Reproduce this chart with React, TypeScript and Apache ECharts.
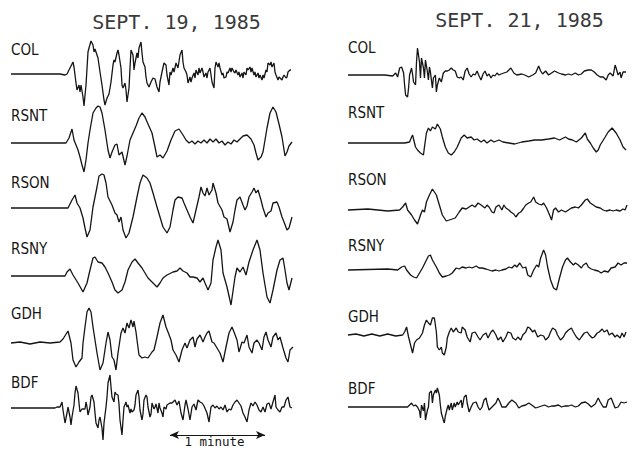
import React, { useEffect, useRef } from "react";
import * as echarts from "echarts";

// ---------- DATA (time in samples, amplitude in counts; up = positive) ----------
const STATIONS = ["COL", "RSNT", "RSON", "RSNY", "GDH", "BDF"];
const DATES = ["SEPT. 19, 1985", "SEPT. 21, 1985"];
const SCALE_BAR = [160, 255]; // 1 minute, in samples
const SCALE_LABEL = "1 minute";

const COL_19 = [[1,0],[30,0],[50,0],[55,-1],[57,0],[63,12],[64,7],[66,-9],[67,-16],[69,-11],[70,-18],[71,-11],[73,-23],[74,-32],[76,-11],[78,22],[79,26],[81,33],[83,29],[84,22],[85,25],[87,19],[88,16],[90,2],[92,-11],[94,-26],[95,-31],[97,-24],[99,-20],[101,-8],[103,9],[104,14],[105,12],[107,21],[108,24],[109,19],[111,6],[112,-11],[113,-14],[115,-9],[116,-16],[117,-28],[119,-14],[120,6],[121,24],[123,19],[124,4],[125,11],[127,21],[128,16],[129,26],[131,32],[132,21],[133,12],[135,7],[136,-3],[137,-9],[139,-13],[141,-8],[143,-4],[145,-5],[147,-13],[149,-18],[150,-8],[152,2],[154,11],[156,9],[157,-1],[159,-11],[160,2],[161,-1],[163,6],[164,2],[166,11],[168,6],[170,19],[172,24],[173,12],[174,6],[176,2],[177,-1],[178,-9],[180,-3],[181,-8],[182,-4],[184,1],[185,-4],[186,4],[188,-1],[189,6],[190,1],[192,6],[193,2],[194,-3],[196,1],[197,-4],[198,2],[200,6],[201,-1],[202,-8],[204,-14],[205,6],[206,12],[208,7],[209,11],[210,6],[212,-1],[213,1],[214,-4],[216,-3],[217,2],[218,1],[220,6],[221,2],[222,6],[224,2],[225,1],[226,4],[228,-1],[229,2],[230,-3],[232,1],[233,-4],[234,2],[236,-1],[237,6],[238,4],[240,7],[241,2],[242,6],[244,-1],[245,2],[246,-3],[248,1],[249,-4],[250,-1],[252,-6],[253,-1],[254,-4],[256,4],[257,2],[258,11],[260,9],[261,12],[262,7],[264,11],[265,2],[266,-1],[268,-6],[269,-3],[270,-4],[272,-6],[273,-3],[274,-1],[276,-4],[277,-3],[278,2],[280,4],[281,4]];
const RSNT_19 = [[1,0],[50,0],[56,0],[59,5],[62,14],[64,3],[68,-7],[70,-14],[72,-22],[74,-29],[76,-17],[78,0],[80,13],[83,30],[86,35],[88,37],[90,36],[92,30],[95,13],[98,-7],[100,-15],[102,-9],[105,-2],[107,-1],[109,-12],[112,-9],[115,-22],[117,-13],[120,3],[123,10],[126,17],[129,25],[132,30],[135,26],[138,19],[142,10],[145,-4],[147,-14],[150,-12],[153,-15],[157,-8],[161,3],[165,12],[169,14],[173,8],[176,3],[179,0],[182,2],[185,-1],[188,2],[191,0],[194,3],[197,0],[200,4],[203,1],[206,4],[209,0],[212,2],[215,-2],[218,1],[221,-1],[224,3],[227,1],[230,4],[233,7],[237,8],[241,4],[244,-2],[246,-10],[248,-17],[251,-14],[253,-9],[255,3],[257,15],[260,30],[263,36],[266,31],[269,19],[272,6],[275,-13],[277,-9],[279,-3],[282,1]];
const RSON_19 = [[1,0],[58,0],[62,8],[65,13],[67,5],[70,0],[73,-10],[75,-20],[77,-29],[80,-22],[83,1],[87,21],[89,32],[92,34],[94,33],[96,25],[98,11],[102,3],[105,-5],[107,-7],[109,-14],[111,-9],[113,-22],[116,-30],[119,-25],[123,-9],[127,11],[130,25],[133,33],[137,30],[140,25],[143,15],[147,1],[150,-9],[153,-19],[157,-25],[160,-19],[163,-2],[165,8],[168,11],[172,10],[174,5],[177,-2],[180,-9],[183,-15],[186,-2],[189,11],[191,21],[193,15],[195,12],[197,20],[199,13],[202,18],[203,25],[206,15],[208,5],[212,-2],[214,-9],[217,-11],[220,-24],[223,-14],[225,-2],[227,8],[230,11],[233,3],[235,-2],[237,2],[239,11],[242,16],[244,20],[246,15],[248,18],[251,8],[253,0],[256,-9],[258,-5],[261,-3],[263,5],[267,6],[269,1],[272,-9],[274,-14],[277,-22],[279,-20],[282,-9]];
const RSNY_19 = [[1,0],[55,0],[57,4],[60,7],[63,1],[68,-7],[73,-16],[77,-7],[80,6],[83,18],[85,19],[88,14],[92,13],[95,9],[98,3],[102,-6],[105,-14],[108,-17],[112,-14],[115,-6],[118,6],[122,14],[125,17],[128,13],[132,8],[135,3],[138,-2],[143,-7],[147,-11],[150,-7],[153,-2],[157,1],[163,4],[167,5],[170,8],[173,5],[177,3],[180,-1],[183,-1],[187,-2],[190,-6],[193,-2],[195,-7],[198,-14],[201,-7],[203,16],[206,29],[208,36],[211,26],[213,3],[217,-11],[221,-29],[225,-1],[227,8],[230,4],[233,9],[236,1],[239,14],[243,26],[247,36],[250,26],[253,3],[257,-21],[260,-27],[263,-14],[267,6],[270,16],[273,18],[275,6],[277,-7],[279,-14],[282,-2]];
const GDH_19 = [[1,0],[10,1],[20,-1],[30,1],[40,0],[50,1],[53,4],[58,12],[61,0],[63,-17],[66,-24],[69,-19],[72,-15],[73,0],[75,16],[77,31],[79,35],[81,31],[83,16],[87,-10],[90,-27],[93,-20],[96,0],[98,11],[100,3],[102,-14],[104,-17],[106,-27],[108,-10],[111,10],[113,15],[115,10],[117,20],[119,15],[121,23],[123,16],[124,22],[126,11],[127,3],[129,-12],[132,-15],[135,-14],[138,-15],[142,-9],[144,-7],[147,6],[150,20],[153,28],[156,16],[158,11],[161,3],[163,-7],[166,-12],[169,-19],[172,-7],[175,0],[177,-5],[180,3],[183,6],[185,-4],[187,4],[190,8],[193,1],[195,6],[197,10],[199,12],[202,1],[204,0],[207,-5],[210,-10],[213,-19],[216,-4],[219,10],[222,16],[224,11],[227,3],[229,-9],[232,1],[234,0],[237,8],[239,-4],[242,-10],[244,0],[247,3],[249,0],[252,-7],[254,6],[256,11],[258,3],[261,-4],[263,6],[266,10],[268,3],[270,6],[273,-5],[276,-15],[278,-19],[280,-7],[283,-4]];
const BDF_19 = [[1,0],[45,0],[47,1],[50,1],[52,6],[53,-2],[55,-15],[57,-5],[58,1],[60,-9],[61,-17],[62,-9],[64,3],[65,15],[66,22],[68,15],[69,5],[70,-4],[72,-1],[73,-1],[75,-1],[76,6],[77,1],[78,-7],[80,1],[81,11],[82,13],[84,6],[85,-5],[86,-15],[88,-20],[89,-12],[90,-9],[92,-20],[93,-32],[94,-15],[96,1],[97,11],[98,25],[100,33],[101,21],[102,11],[104,6],[105,16],[106,14],[108,13],[109,4],[110,-12],[112,-27],[113,-12],[114,1],[116,6],[117,1],[118,3],[120,-5],[121,-1],[122,-4],[124,-2],[125,3],[126,13],[128,18],[129,11],[130,-2],[132,-12],[133,-6],[134,8],[136,13],[137,11],[138,1],[140,-9],[141,-6],[142,5],[144,-1],[145,1],[146,4],[148,-5],[149,5],[150,0],[152,-5],[153,-9],[154,1],[156,-1],[157,3],[160,5],[162,5],[165,8],[167,3],[169,7],[171,-5],[173,-12],[175,3],[176,8],[178,-1],[180,-12],[182,1],[184,4],[186,-2],[188,8],[190,6],[192,5],[194,2],[197,-5],[199,-14],[201,1],[203,3],[205,0],[207,2],[209,-1],[211,1],[213,-2],[215,3],[217,-4],[219,-1],[221,-2],[223,3],[225,6],[227,8],[229,5],[231,2],[233,-5],[235,-9],[237,-14],[239,-2],[241,5],[243,2],[245,6],[247,3],[249,-2],[251,-4],[253,1],[255,-4],[257,4],[259,5],[261,-1],[263,6],[265,13],[266,1],[268,-2],[270,-4],[272,1],[274,1],[276,8],[278,11],[280,1],[282,0]];

const COL_21 = [[0,0],[37,0],[45,-1],[48,2],[50,-2],[52,7],[54,8],[56,2],[57,-10],[58,-20],[60,-22],[61,-13],[62,0],[64,7],[65,1],[66,-7],[68,-10],[69,13],[70,27],[72,13],[73,-3],[74,17],[76,7],[77,-3],[78,15],[80,3],[81,-5],[82,8],[83,3],[85,-13],[86,-3],[88,0],[89,-17],[90,-10],[92,-3],[94,-7],[96,2],[98,4],[100,4],[102,5],[104,7],[106,5],[108,4],[110,-2],[112,-3],[114,-2],[116,-5],[118,4],[120,7],[122,1],[124,-2],[126,1],[128,0],[130,4],[132,-1],[134,-5],[136,1],[138,4],[140,-1],[142,1],[144,-3],[146,0],[148,-1],[150,2],[152,0],[154,1],[157,2],[160,3],[164,7],[167,2],[170,0],[175,1],[178,0],[182,-2],[186,0],[189,2],[192,9],[194,4],[196,1],[199,4],[202,0],[205,2],[208,4],[212,2],[215,1],[219,0],[222,1],[225,0],[229,2],[232,0],[235,1],[238,4],[242,5],[245,5],[248,3],[251,0],[254,-2],[257,-2],[260,-5],[262,0],[264,2],[267,-1],[269,10],[270,7],[272,0],[274,3],[275,-3],[277,3],[280,3]];
const RSNT_21 = [[0,0],[57,0],[62,1],[64,6],[65,8],[68,-4],[70,-7],[73,-10],[76,-12],[77,-4],[79,10],[81,15],[83,12],[85,16],[88,14],[90,19],[93,14],[95,6],[98,-4],[101,-10],[104,-12],[107,-9],[110,-4],[114,5],[117,8],[120,5],[124,6],[127,3],[130,4],[134,1],[137,3],[140,0],[144,3],[147,1],[152,3],[156,1],[162,0],[168,-1],[175,1],[182,2],[188,3],[195,3],[202,4],[208,5],[213,3],[219,6],[222,4],[226,3],[230,1],[235,5],[239,10],[241,4],[244,0],[247,-5],[250,-9],[252,-7],[254,-2],[259,6],[262,11],[266,15],[270,10],[274,3],[277,-4],[280,-7]];
const RSON_21 = [[0,0],[20,1],[40,-1],[52,0],[55,3],[58,7],[60,0],[64,-5],[67,-10],[70,-14],[73,-5],[75,0],[77,-2],[79,8],[82,15],[85,21],[89,15],[92,5],[95,-5],[99,-11],[102,-10],[105,-9],[108,-8],[112,-2],[115,2],[119,1],[122,3],[125,5],[128,3],[131,7],[134,5],[138,2],[140,5],[142,3],[145,-2],[147,-3],[149,3],[152,5],[155,0],[157,5],[159,2],[162,0],[164,-2],[167,-4],[169,-7],[172,-3],[174,-2],[177,2],[179,5],[182,7],[184,8],[187,13],[189,8],[192,6],[195,5],[197,7],[200,2],[203,-5],[205,-10],[207,0],[209,2],[212,-2],[215,0],[219,-2],[222,0],[225,2],[229,3],[232,2],[235,5],[239,10],[241,11],[244,7],[247,5],[250,3],[254,2],[257,0],[260,-1],[264,0],[267,-1],[270,0],[274,-1],[277,1],[279,0],[281,5]];
const RSNY_21 = [[0,0],[40,1],[50,0],[54,3],[57,4],[59,0],[63,-5],[66,-7],[69,-8],[72,-3],[75,2],[78,8],[81,14],[83,15],[85,10],[89,3],[92,-3],[95,-7],[99,-6],[102,-5],[105,-3],[109,2],[112,1],[115,3],[119,2],[122,3],[125,2],[129,4],[132,2],[135,2],[139,1],[142,0],[145,-1],[149,0],[152,-1],[155,0],[159,1],[162,3],[165,2],[168,5],[170,3],[173,7],[176,2],[179,3],[181,-5],[184,-7],[187,0],[190,5],[192,3],[194,12],[197,20],[199,15],[201,3],[204,-10],[207,-18],[210,-20],[213,-8],[216,3],[219,10],[221,12],[224,8],[227,5],[229,7],[232,5],[235,2],[237,5],[240,7],[242,3],[245,1],[248,0],[252,-1],[255,-3],[258,-1],[262,-2],[265,2],[269,3],[272,7],[275,5],[278,7],[281,7]];
const GDH_21 = [[0,0],[8,1],[16,-1],[24,1],[32,-1],[40,1],[48,-1],[55,0],[57,3],[59,8],[61,-2],[63,-10],[65,-18],[67,-8],[69,-5],[72,-3],[75,2],[77,10],[79,15],[81,12],[83,10],[85,17],[87,17],[89,3],[90,-12],[92,-15],[94,-12],[95,-18],[97,-20],[99,-12],[100,-3],[102,3],[104,7],[106,3],[109,7],[111,3],[114,2],[115,8],[118,5],[120,-2],[123,-7],[125,2],[128,3],[131,-2],[133,-5],[136,0],[139,2],[141,-3],[144,3],[146,5],[149,0],[151,-5],[154,-2],[156,-7],[159,-2],[161,3],[164,2],[166,-3],[169,-5],[171,-2],[174,-5],[176,0],[179,3],[181,8],[183,7],[186,3],[188,5],[191,-2],[194,0],[197,-1],[199,-5],[202,-2],[204,3],[206,7],[209,5],[211,0],[214,-5],[217,-2],[219,2],[222,5],[225,7],[227,3],[230,-2],[233,-5],[235,-2],[238,2],[241,3],[243,0],[246,-3],[248,-2],[251,2],[253,3],[256,6],[258,3],[261,5],[263,0],[266,2],[269,-2],[271,0],[274,-3],[276,2],[278,-2],[280,3]];
const BDF_21 = [[0,0],[60,0],[62,2],[64,4],[66,1],[68,2],[70,0],[72,-4],[73,-11],[74,2],[76,-4],[77,4],[78,-13],[80,-3],[81,0],[82,14],[84,16],[85,4],[86,12],[88,17],[89,14],[90,19],[92,12],[93,2],[94,-6],[96,-13],[97,-16],[98,-9],[100,-1],[101,2],[102,-3],[104,4],[105,-3],[107,4],[108,0],[110,5],[111,2],[114,7],[115,-1],[117,10],[119,12],[120,4],[122,-5],[124,0],[126,4],[129,5],[131,0],[133,-3],[135,0],[137,7],[139,9],[140,4],[142,-3],[144,-1],[147,2],[149,4],[151,9],[153,5],[155,0],[159,0],[162,4],[165,7],[169,4],[172,-1],[175,1],[179,2],[182,4],[185,2],[189,-1],[192,0],[195,1],[198,2],[202,0],[205,1],[208,1],[212,2],[215,0],[218,1],[222,1],[225,2],[229,0],[232,1],[235,4],[239,5],[242,3],[245,0],[249,3],[252,9],[254,5],[257,0],[260,0],[262,7],[265,9],[267,4],[269,-1],[272,0],[275,5],[278,4],[281,5]];

const TRACES_19 = [COL_19, RSNT_19, RSON_19, RSNY_19, GDH_19, BDF_19];
const TRACES_21 = [COL_21, RSNT_21, RSON_21, RSNY_21, GDH_21, BDF_21];

// ---------- LAYOUT ----------
const W = 631, H = 449;
const PANEL_LEFT = [10, 348];
const PANEL_WIDTH = 285;
const BASE_Y = [
  [74, 143, 208, 276, 343, 408],
  [75, 143, 210, 270, 335, 407],
];
const LABEL_Y = [
  [50, 116, 182.5, 249, 313.5, 382.5],
  [48, 112.5, 179.5, 246, 317, 389],
];
const LABEL_X = [11, 348];
const TITLE_POS = [[176.5, 22], [519.5, 20]];
const HALF = 40;
const INK = "#151515";
const MONO = "'DejaVu Sans Mono', 'Liberation Mono', monospace";
const COND = "'DejaVu Sans Condensed', 'DejaVu Sans', sans-serif";

export default function App() {
  const ref = useRef<HTMLDivElement>(null);
  useEffect(() => {
    if (!ref.current) return;
    const chart = echarts.init(ref.current, null, { renderer: "svg", width: W, height: H });
    const grids: any[] = [];
    const xAxes: any[] = [];
    const yAxes: any[] = [];
    const series: any[] = [];
    const graphics: any[] = [];
    [TRACES_19, TRACES_21].forEach((traces, p) => {
      traces.forEach((data, i) => {
        const idx = grids.length;
        grids.push({ left: PANEL_LEFT[p], top: BASE_Y[p][i] - HALF, width: PANEL_WIDTH, height: HALF * 2 });
        xAxes.push({ gridIndex: idx, type: "value", min: 0, max: PANEL_WIDTH, show: false });
        yAxes.push({ gridIndex: idx, type: "value", min: -HALF, max: HALF, show: false });
        const s: any = {
          type: "line",
          xAxisIndex: idx,
          yAxisIndex: idx,
          data,
          showSymbol: false,
          symbol: "none",
          clip: false,
          lineStyle: { color: INK, width: 1.3 },
          silent: true,
        };
        if (p === 0 && i === 5) {
          s.markLine = {
            silent: true,
            symbol: ["arrow", "arrow"],
            symbolSize: [6, 9],
            label: { show: false },
            lineStyle: { color: INK, width: 1, type: "solid" },
            data: [[{ coord: [SCALE_BAR[0], -27] }, { coord: [SCALE_BAR[1], -27] }]],
          };
        }
        series.push(s);
        graphics.push({
          type: "text",
          x: LABEL_X[p],
          y: LABEL_Y[p][i],
          style: { text: STATIONS[i], font: `15px ${COND}`, fill: INK, verticalAlign: "middle", align: "left" },
        });
      });
      graphics.push({
        type: "text",
        x: TITLE_POS[p][0],
        y: TITLE_POS[p][1],
        style: { text: DATES[p], font: `20px ${MONO}`, fill: "#3a3a3a", verticalAlign: "middle", align: "center" },
      });
    });
    graphics.push({
      type: "text",
      x: 214.5,
      y: 441.5,
      style: { text: SCALE_LABEL, font: `12.5px ${MONO}`, fill: INK, verticalAlign: "middle", align: "center" },
    });
    chart.setOption({
      animation: false,
      backgroundColor: "#ffffff",
      grid: grids,
      xAxis: xAxes,
      yAxis: yAxes,
      series,
      graphic: graphics,
    });
    return () => chart.dispose();
  }, []);
  return <div ref={ref} style={{ position: "absolute", left: 0, top: 0, width: W, height: H }} />;
}
